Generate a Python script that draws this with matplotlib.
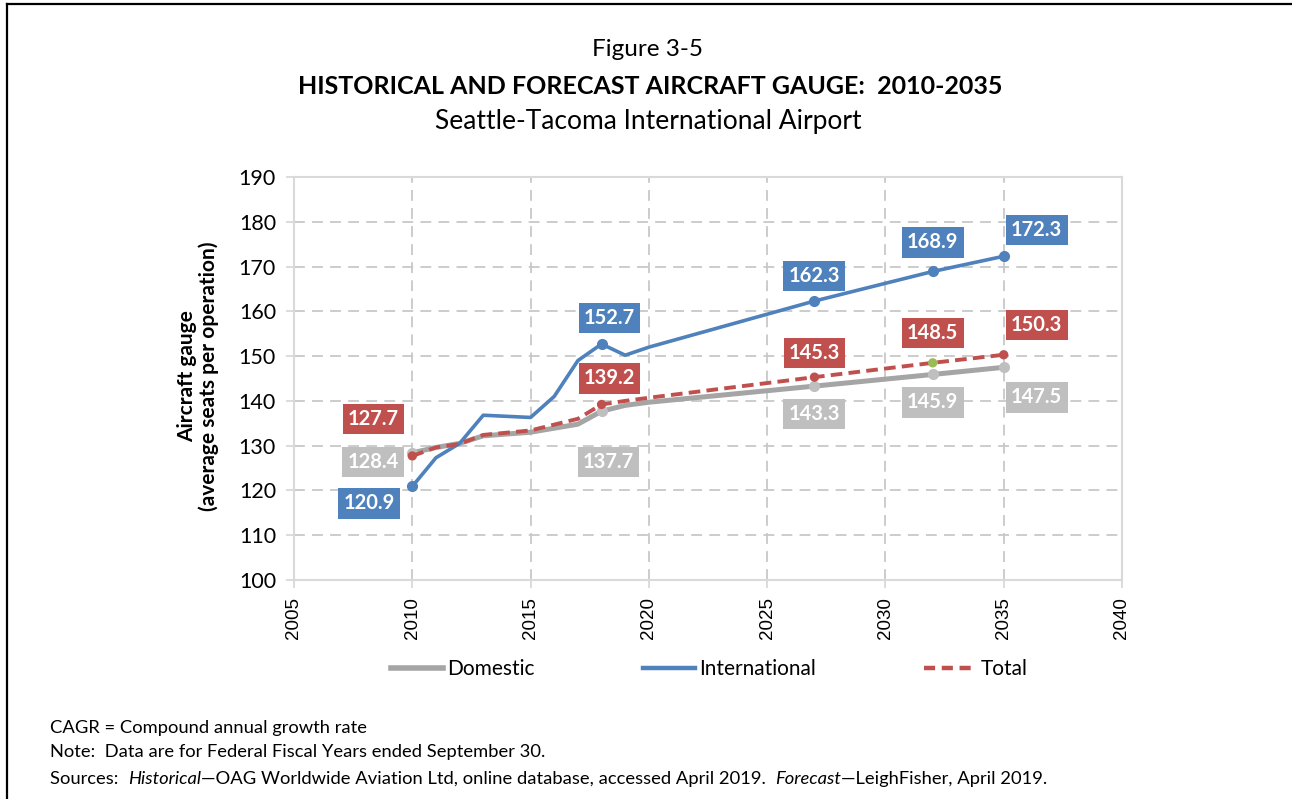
import matplotlib
matplotlib.use("Agg")
import matplotlib.pyplot as plt
from matplotlib.lines import Line2D

# ---- data -------------------------------------------------------------
dom_years = [2010, 2011, 2012, 2013, 2015, 2017, 2018, 2019, 2020, 2027, 2032, 2035]
dom_vals = [128.4, 129.6, 130.5, 132.2, 133.0, 134.8, 137.7, 139.0, 139.7, 143.3, 145.9, 147.5]

intl_years = [2010, 2011, 2012, 2013, 2015, 2016, 2017, 2018, 2019, 2020, 2027, 2032, 2035]
intl_vals = [120.9, 127.3, 130.5, 136.8, 136.3, 141.0, 149.0, 152.7, 150.2, 152.0, 162.3, 168.9, 172.3]

tot_years = [2010, 2011, 2012, 2013, 2015, 2017, 2018, 2019, 2020, 2027, 2032, 2035]
tot_vals = [127.7, 129.6, 130.4, 132.4, 133.4, 136.0, 139.2, 140.0, 140.7, 145.3, 148.5, 150.3]

label_years = [2010, 2018, 2027, 2032, 2035]

x_ticks = [2005, 2010, 2015, 2020, 2025, 2030, 2035, 2040]
y_ticks = [100, 110, 120, 130, 140, 150, 160, 170, 180, 190]

# ---- styling ----------------------------------------------------------
BLUE = "#4F81BD"
RED = "#C0504D"
GRAY_LINE = "#A5A5A5"
GRAY_BOX = "#BFBFBF"
GREEN = "#9BBB59"
SANS = ["Lato", "DejaVu Sans"]
ARIAL = ["Liberation Sans", "DejaVu Sans"]

W, H = 1292, 799
fig = plt.figure(figsize=(W / 100, H / 100), dpi=100)
ax = fig.add_axes([294 / W, 1 - 580 / H, (1122 - 294) / W, (580 - 177) / H])

# lines
ax.plot(dom_years, dom_vals, color=GRAY_LINE, lw=3.6, solid_capstyle="round", zorder=3)
ax.plot(intl_years, intl_vals, color=BLUE, lw=2.6, solid_capstyle="round", zorder=4)
ax.plot(tot_years, tot_vals, color=RED, lw=2.8, ls=(0, (3, 1.6)), zorder=5)

# markers at labelled years
def pick(years, vals, sel):
    return [vals[years.index(y)] for y in sel]

dom_lab = pick(dom_years, dom_vals, label_years)
intl_lab = pick(intl_years, intl_vals, label_years)
tot_lab = pick(tot_years, tot_vals, label_years)

ax.plot(label_years, dom_lab, ls="none", marker="o", ms=7, color=GRAY_BOX, zorder=3.5)
ax.plot(label_years, intl_lab, ls="none", marker="o", ms=7, color=BLUE, zorder=4.5)
tot_colors = [GREEN if y == 2032 else RED for y in label_years]
ax.scatter(label_years, tot_lab, s=45, c=tot_colors, zorder=5.5, linewidths=0)

# value boxes: offsets (pixels) from the data point
dom_off = [(-39, -9), (7, -51), (0, -28), (0, -28), (33, -30)]
intl_off = [(-43, -17), (8, 26), (0, 25), (0, 29), (33, 26)]
tot_off = [(-39, 37), (8, 26), (0, 24), (0, 30), (33, 30)]

def boxes(vals, offs, color):
    for yr, v, (dx, dy) in zip(label_years, vals, offs):
        ax.annotate(f"{v:.1f}", (yr, v), xytext=(dx * 0.72, dy * 0.72),
                    textcoords="offset points", ha="center", va="center",
                    fontsize=14.5, fontweight="bold", color="white", family=SANS,
                    bbox=dict(boxstyle="square,pad=0.26", fc=color, ec="none"),
                    zorder=8, annotation_clip=False)

boxes(dom_lab, dom_off, GRAY_BOX)
boxes(intl_lab, intl_off, BLUE)
boxes(tot_lab, tot_off, RED)

# axes
ax.set_xlim(2005, 2040)
ax.set_ylim(100, 190)
ax.set_xticks(x_ticks)
ax.set_yticks(y_ticks)
ax.set_xticklabels([str(t) for t in x_ticks], rotation=90, fontsize=13.5, family=ARIAL)
ax.set_yticklabels([str(t) for t in y_ticks], fontsize=15.5, family=SANS)
ax.grid(True, color="#C8C8C8", ls=(0, (6, 4)), lw=1.3)
ax.set_axisbelow(True)
for s in ax.spines.values():
    s.set_color("#D9D9D9")
    s.set_linewidth(1.5)
ax.tick_params(axis="both", color="#D9D9D9", length=6, width=1.3, labelcolor="#000000")
ax.tick_params(axis="y", pad=7)
ax.tick_params(axis="x", pad=6)

fig.text(198 / W, 1 - 376 / H, "Aircraft gauge\n(average seats per operation)",
         rotation=90, ha="center", va="center", fontsize=15, fontweight="bold",
         family=SANS, linespacing=1.05)

# titles
fig.text(648 / W, 1 - 49 / H, "Figure 3-5", ha="center", va="center", fontsize=17.5, family=SANS)
fig.text(650 / W, 1 - 86 / H, "HISTORICAL AND FORECAST AIRCRAFT GAUGE:  2010-2035",
         ha="center", va="center", fontsize=18, fontweight="bold", family=SANS)
fig.text(648 / W, 1 - 121 / H, "Seattle-Tacoma International Airport",
         ha="center", va="center", fontsize=19, family=SANS)

# legend
handles = [
    Line2D([], [], color=GRAY_LINE, lw=4),
    Line2D([], [], color=BLUE, lw=3.2),
    Line2D([], [], color=RED, lw=3.2, ls=(0, (2.5, 1.5))),
]
fig.legend(handles, ["Domestic", "International", "Total"], loc="center",
           bbox_to_anchor=(709 / W, 1 - 669 / H), ncol=3, frameon=False,
           prop=dict(family=SANS, size=15), handlelength=2.5, handletextpad=0.2,
           columnspacing=5.2)

# footnotes
foot_size = 13.2
fig.text(50 / W, 1 - 728 / H, "CAGR = Compound annual growth rate", fontsize=foot_size,
         family=SANS, va="center")
fig.text(50 / W, 1 - 752 / H, "Note:  Data are for Federal Fiscal Years ended September 30.",
         fontsize=foot_size, family=SANS, va="center")

renderer = fig.canvas.get_renderer()
x_px = 50
parts = [("Sources:  ", "normal"), ("Historical", "italic"),
         ("\u2014OAG Worldwide Aviation Ltd, online database, accessed April 2019.  ", "normal"),
         ("Forecast", "italic"), ("\u2014LeighFisher, April 2019.", "normal")]
for txt, style in parts:
    t = fig.text(x_px / W, 1 - 779 / H, txt, fontsize=foot_size, family=SANS,
                 style=style, va="center")
    bb = t.get_window_extent(renderer=renderer)
    x_px += bb.width

# page frame (left and top rules)
fig.add_artist(Line2D([7 / W, 7 / W], [0, 1 - 4 / H], color="black", lw=1.6,
                      transform=fig.transFigure))
fig.add_artist(Line2D([7 / W, 1], [1 - 4 / H, 1 - 4 / H], color="black", lw=1.6,
                      transform=fig.transFigure))

fig.savefig("out.png", dpi=100)
